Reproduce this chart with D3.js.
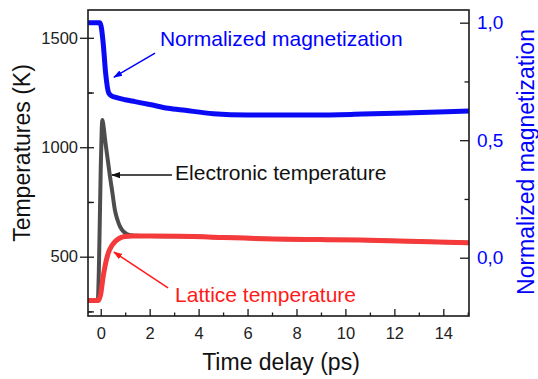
<!DOCTYPE html>
<html>
<head>
<meta charset="utf-8">
<script src="https://cdn.jsdelivr.net/npm/d3@7"></script>
<style>
  body { margin: 0; background: #fff; }
  svg text { font-family: Arial, "Liberation Sans", sans-serif; }
</style>
</head>
<body>
<div id="container"></div>
<script>
const width = 538;
const height = 379;

// data
const timeMag = [-0.52, -0.03, 0.1, 0.2, 0.33, 0.45, 0.58, 1.0, 1.4, 2.0, 2.75, 3.45, 4.6, 6.0, 8.7, 10.7, 12.75, 15.05];
const magnetization = [1.0, 1.0, 0.914, 0.786, 0.70, 0.688, 0.683, 0.672, 0.664, 0.652, 0.636, 0.627, 0.613, 0.607, 0.607, 0.611, 0.617, 0.624];

const timeElec = [-0.52, -0.12, -0.08, -0.04, 0.0, 0.04, 0.07, 0.11, 0.18, 0.29, 0.38, 0.48, 0.58, 0.68, 0.79, 0.9, 1.06, 1.3, 1.6, 2.0, 3.2, 5.0, 7.05, 9.0, 10.6, 12.6, 15.05];
const electronTemp = [300, 300, 420, 650, 900, 1080, 1125, 1100, 1033, 941, 865, 790, 713, 670, 637, 618, 604, 597, 595, 594, 593, 588, 581, 578, 576, 570, 564];

const timeLat = [-0.52, -0.1, 0.0, 0.1, 0.2, 0.31, 0.45, 0.58, 0.75, 0.99, 1.3, 2.0, 3.2, 5.0, 7.05, 9.0, 10.6, 12.6, 15.05];
const latticeTemp = [300, 300, 330, 409, 470, 517, 550, 568, 583, 592, 594, 594, 593, 588, 581, 578, 576, 570, 564];

const xMajor = [0, 2, 4, 6, 8, 10, 12, 14];
const xMinor = [1, 3, 5, 7, 9, 11, 13, 15];
const tMajor = [500, 1000, 1500];
const tMinor = [250, 750, 1250];
const mMajor = [0, 0.5, 1.0];
const mMinor = [0.25, 0.75];

// annotations in data coordinates (time, temperature)
const notes = [
  { text: "Normalized magnetization", color: "#0000ff", tx: 2.42, ty: 1462, from: [2.22, 1430], to: [0.54, 1320] },
  { text: "Electronic temperature", color: "#111", tx: 3.04, ty: 850, from: [2.91, 873], to: [0.46, 873] },
  { text: "Lattice temperature", color: "#ff1a1a", tx: 3.04, ty: 295, from: [2.75, 357], to: [0.54, 521] }
];

const svg = d3.select("#container").append("svg")
  .attr("width", width)
  .attr("height", height);

const x = d3.scaleLinear().domain([-0.52, 15.05]).range([88, 469]);
const yT = d3.scaleLinear().domain([229, 1627]).range([316, 10]);
const yM = d3.scaleLinear().domain([-0.248, 1.054]).range([316, 10]);

svg.append("clipPath").attr("id", "clip")
  .append("rect").attr("x", 88).attr("y", 10).attr("width", 381).attr("height", 306);

// curves
const plot = svg.append("g").attr("clip-path", "url(#clip)");
const lineT = (ts) => d3.line().x((d, i) => x(ts[i])).y(d => yT(d)).curve(d3.curveMonotoneX);
const lineM = d3.line().x((d, i) => x(timeMag[i])).y(d => yM(d)).curve(d3.curveMonotoneX);

plot.append("path").datum(electronTemp)
  .attr("d", lineT(timeElec)).attr("fill", "none")
  .attr("stroke", "#4d4d4d").attr("stroke-width", 4).attr("stroke-linejoin", "round");
plot.append("path").datum(latticeTemp)
  .attr("d", lineT(timeLat)).attr("fill", "none")
  .attr("stroke", "#f43a3a").attr("stroke-width", 5).attr("stroke-linejoin", "round");
plot.append("path").datum(magnetization)
  .attr("d", lineM).attr("fill", "none")
  .attr("stroke", "#0a0af5").attr("stroke-width", 5).attr("stroke-linejoin", "round");

// axes
const axisColor = "#1a1a1a";
function style(g, color, size) {
  g.select(".domain").remove();
  g.selectAll("line").attr("stroke", axisColor).attr("stroke-width", 1.3);
  g.selectAll("text").attr("fill", color).attr("font-size", size);
}

svg.append("g").attr("transform", "translate(88,0)")
  .call(d3.axisLeft(yT).tickValues(tMajor).tickSize(8).tickPadding(2).tickFormat(d3.format("d")))
  .call(g => style(g, "#222", "16.5px"));
svg.append("g").attr("transform", "translate(88,0)")
  .call(d3.axisLeft(yT).tickValues(tMajor.concat(tMinor)).tickSize(-6).tickFormat(""))
  .call(g => style(g, "#222", "0px"));
svg.append("g").attr("transform", "translate(88,0)")
  .call(d3.axisLeft(yT).tickValues(tMinor).tickSize(-4).tickFormat(""))
  .call(g => style(g, "#222", "0px"));

svg.append("g").attr("transform", "translate(0,316)")
  .call(d3.axisBottom(x).tickValues(xMajor).tickSizeInner(-7).tickSizeOuter(0).tickPadding(11).tickFormat(d3.format("d")))
  .call(g => style(g, "#222", "16.5px"));
svg.append("g").attr("transform", "translate(0,316)")
  .call(d3.axisBottom(x).tickValues(xMinor.filter(v => v < 15.05)).tickSizeInner(-3.5).tickSizeOuter(0).tickFormat(""))
  .call(g => style(g, "#222", "0px"));

svg.append("g").attr("transform", "translate(469,0)")
  .call(d3.axisRight(yM).tickValues(mMajor).tickSizeInner(-9).tickSizeOuter(0).tickPadding(8)
    .tickFormat(d => d3.format(".1f")(d).replace(".", ",")))
  .call(g => style(g, "#0000ff", "19px"));
svg.append("g").attr("transform", "translate(469,0)")
  .call(d3.axisRight(yM).tickValues(mMinor).tickSizeInner(-4.5).tickSizeOuter(0).tickFormat(""))
  .call(g => style(g, "#0000ff", "0px"));

// frame
svg.append("rect")
  .attr("x", 88).attr("y", 10).attr("width", 381).attr("height", 306)
  .attr("fill", "none").attr("stroke", axisColor).attr("stroke-width", 1.6);

// axis titles
svg.append("text")
  .attr("transform", "translate(30,153) rotate(-90)")
  .attr("text-anchor", "middle").attr("font-size", "23px").attr("fill", "#111")
  .text("Temperatures (K)");
svg.append("text")
  .attr("x", 281).attr("y", 370)
  .attr("text-anchor", "middle").attr("font-size", "23px").attr("fill", "#111")
  .text("Time delay (ps)");
svg.append("text")
  .attr("transform", "translate(534,162) rotate(-90)")
  .attr("text-anchor", "middle").attr("font-size", "23px").attr("fill", "#0000ff")
  .text("Normalized magnetization");

// annotations with arrows
const defs = svg.append("defs");
notes.forEach((n, i) => {
  defs.append("marker")
    .attr("id", "arrow" + i)
    .attr("viewBox", "0 0 10 10").attr("refX", 9).attr("refY", 5)
    .attr("markerWidth", 6).attr("markerHeight", 6)
    .attr("markerUnits", "strokeWidth")
    .attr("orient", "auto")
    .append("path").attr("d", "M0,1.5 L10,5 L0,8.5 Z").attr("fill", n.color);
});

const ann = svg.append("g");
ann.selectAll("line").data(notes).enter().append("line")
  .attr("x1", d => x(d.from[0])).attr("y1", d => yT(d.from[1]))
  .attr("x2", d => x(d.to[0])).attr("y2", d => yT(d.to[1]))
  .attr("stroke", d => d.color).attr("stroke-width", 1.5)
  .attr("marker-end", (d, i) => `url(#arrow${i})`);
ann.selectAll("text").data(notes).enter().append("text")
  .attr("x", d => x(d.tx)).attr("y", d => yT(d.ty))
  .attr("font-size", "21px").attr("fill", d => d.color)
  .text(d => d.text);
</script>
</body>
</html>
